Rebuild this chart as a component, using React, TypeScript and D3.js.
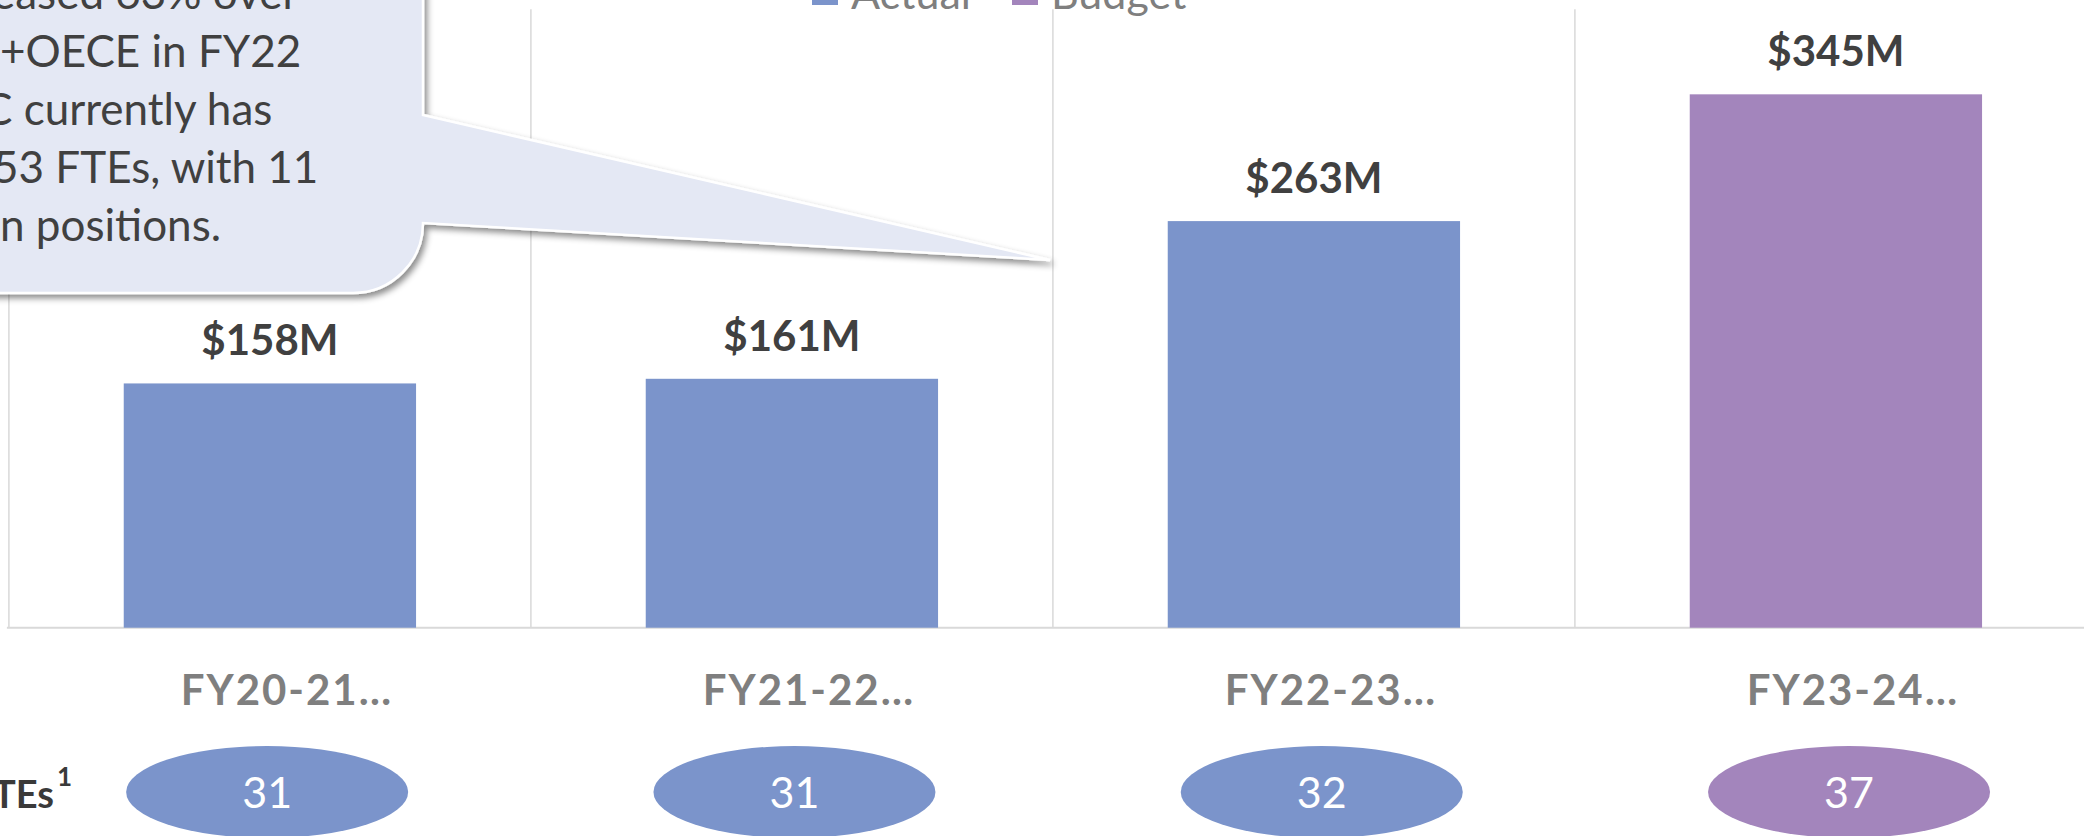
import React from 'react'
import * as d3 from 'd3'

const categories = ['FY20-21…', 'FY21-22…', 'FY22-23…', 'FY23-24…']
const seriesOf = ['Actual', 'Actual', 'Actual', 'Budget']
const spend = [158, 161, 263, 345]
const ftes = [31, 31, 32, 37]
const legendItems = ['Actual', 'Budget']
// callout lines, split where the left edge of the picture cuts them
const noteHidden = ['incr', 'OEC', 'OE', 'only ', 'ope']
const noteShown = [
  'eased 63% over',
  '+OECE in FY22',
  'C currently has',
  '53 FTEs, with 11',
  'n positions.',
]

const colors: Record<string, string> = { Actual: '#7b94cb', Budget: '#a385bc' }
const FONT = 'Lato, Carlito, Calibri, sans-serif'

const width = 2084
const height = 836
const plot = { left: 8.9, top: 9.3, bottom: 627.7, step: 522 }
const noteCut = [-8, 0, -17, -7, 0]

const App: React.FC = () => {
  const xGrid = d3
    .scaleBand<string>()
    .domain(categories)
    .range([plot.left, plot.left + plot.step * categories.length])
  const x = d3
    .scaleBand<string>()
    .domain(categories)
    .range([plot.left, plot.left + plot.step * categories.length])
    .paddingInner(0.44)
    .paddingOuter(0.22)
  const y = d3.scaleLinear().domain([0, 400]).range([plot.bottom, plot.top])
  // the FTE bubbles sit on a slightly wider spacing than the bars
  const fteX = d3
    .scaleBand<string>()
    .domain(categories)
    .range([3.5, 3.5 + 527.3 * categories.length])

  const gridXs = [...categories.map((c) => xGrid(c)!), xGrid.range()[1]]

  // callout box with pointer
  const bx0 = -400
  const by0 = -200
  const bx1 = 423
  const by1 = 293
  const r = 70
  const tip: [number, number] = [1050, 260]
  const callout = [
    `M${bx0 + r},${by0}`,
    `H${bx1 - r}`,
    `A${r},${r} 0 0 1 ${bx1},${by0 + r}`,
    `V115`,
    `L${tip[0]},${tip[1]}`,
    `L${bx1},${by1 - r}`,
    `A${r},${r} 0 0 1 ${bx1 - r},${by1}`,
    `H${bx0 + r}`,
    `A${r},${r} 0 0 1 ${bx0},${by1 - r}`,
    `V${by0 + r}`,
    `A${r},${r} 0 0 1 ${bx0 + r},${by0}`,
    'Z',
  ].join(' ')

  return (
    <svg
      width={width}
      height={height}
      style={{ position: 'fixed', left: 0, top: 0, background: '#fff' }}
      fontFamily={FONT}
    >
      <defs>
        <filter id="shadow" x="-20%" y="-20%" width="140%" height="140%">
          <feDropShadow dx="3" dy="4" stdDeviation="3" floodColor="#000" floodOpacity="0.45" />
        </filter>
      </defs>

      {/* gridlines */}
      {gridXs.map((gx, i) => (
        <line
          key={i}
          x1={gx}
          x2={gx}
          y1={plot.top}
          y2={plot.bottom}
          stroke="#d9d9d9"
          strokeWidth={1.5}
        />
      ))}
      <line
        x1={plot.left - 2}
        x2={width}
        y1={y(0)}
        y2={y(0)}
        stroke="#d9d9d9"
        strokeWidth={2}
      />

      {/* bars */}
      {categories.map((c, i) => (
        <rect
          key={c}
          x={x(c)}
          y={y(spend[i])}
          width={x.bandwidth()}
          height={y(0) - y(spend[i])}
          fill={colors[seriesOf[i]]}
        />
      ))}

      {/* value labels */}
      {categories.map((c, i) => (
        <text
          key={c}
          x={x(c)! + x.bandwidth() / 2}
          y={y(spend[i]) - 28}
          textAnchor="middle"
          fontSize={42}
          fontWeight={700}
          fill="#404040"
        >
          {`$${spend[i]}M`}
        </text>
      ))}

      {/* category labels */}
      {categories.map((c) => (
        <text
          key={c}
          x={xGrid(c)! + xGrid.bandwidth() / 2 + 17}
          y={705}
          textAnchor="middle"
          fontSize={42}
          fontWeight={700}
          letterSpacing={2}
          fill="#7f7f7f"
        >
          {c}
        </text>
      ))}

      {/* FTE row */}
      <text x={54} y={808} textAnchor="end" fontSize={38} fontWeight={700} fill="#3a3a3a">
        FTEs
      </text>
      <text x={57} y={786} fontSize={26} fontWeight={700} fill="#3a3a3a">
        1
      </text>
      {categories.map((c, i) => {
        const cx = fteX(c)! + fteX.bandwidth() / 2
        return (
          <g key={c}>
            <ellipse cx={cx} cy={792} rx={141} ry={46} fill={colors[seriesOf[i]]} />
            <text x={cx} y={808} textAnchor="middle" fontSize={43} fill="#fff">
              {ftes[i]}
            </text>
          </g>
        )
      })}

      {/* legend */}
      {legendItems.map((s, i) => {
        const lx = 812 + i * 200
        return (
          <g key={s}>
            <rect x={lx} y={-21} width={26} height={26} fill={colors[s]} />
            <text x={lx + 39} y={9} fontSize={43} fill="#7f7f7f">
              {s}
            </text>
          </g>
        )
      })}

      {/* callout */}
      <path d={callout} fill="#e4e8f4" stroke="#fff" strokeWidth={2.5} filter="url(#shadow)" />
      <g fontSize={44} fill="#404040">
        {noteShown.map((line, i) => (
          <g key={i}>
            <text x={noteCut[i]} y={9 + i * 58} textAnchor="end">
              {noteHidden[i]}
            </text>
            <text x={noteCut[i]} y={9 + i * 58}>
              {line}
            </text>
          </g>
        ))}
      </g>
    </svg>
  )
}

export default App
